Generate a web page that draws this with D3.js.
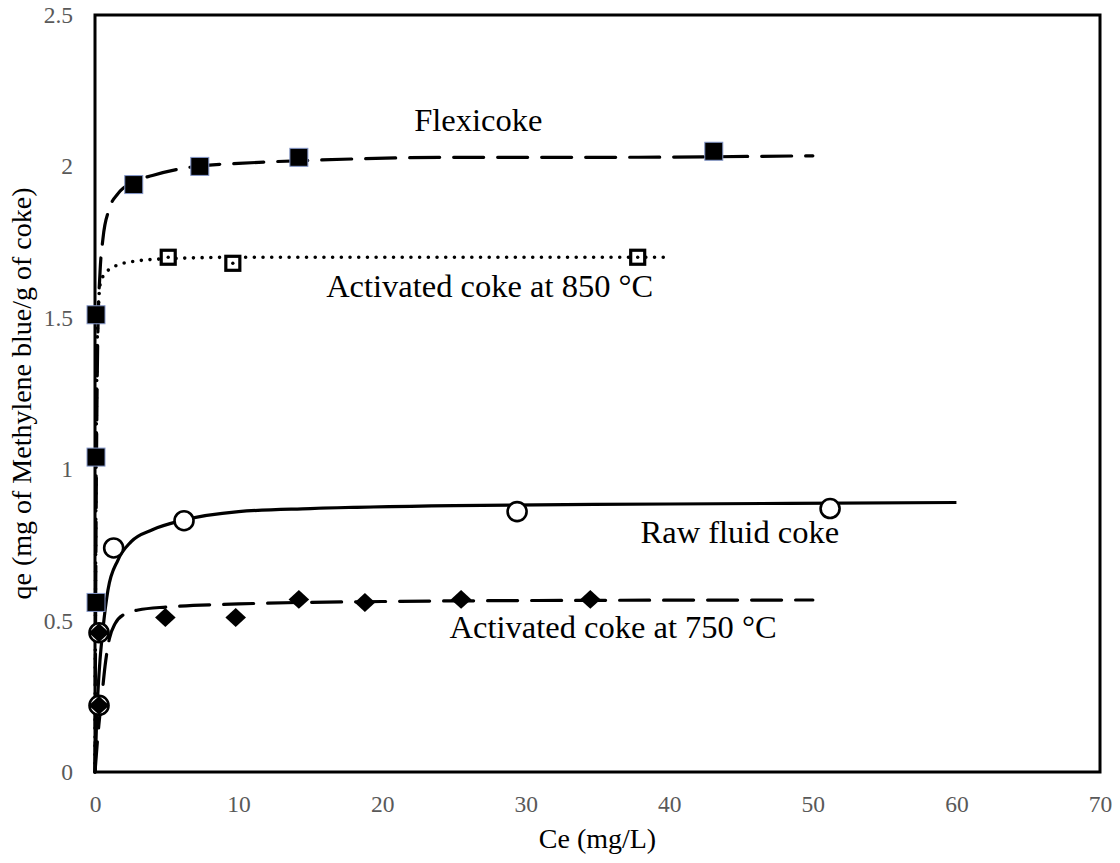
<!DOCTYPE html>
<html lang="en">
<head>
<meta charset="UTF-8">
<script src="https://d3js.org/d3.v7.min.js"></script>
<style>
body { margin: 0; background: #fff; }
text { font-family: "Liberation Serif", "Times New Roman", serif; }
</style>
</head>
<body>
<div class="canva"></div>
<script>
// measured points (Ce mg/L, qe mg/g)
const flexiX = [0.07, 0.07, 0.07, 2.7, 7.3, 14.2, 43.1];
const flexiY = [0.56, 1.04, 1.51, 1.94, 2.0, 2.03, 2.05];
const act850X = [5.1, 9.6, 37.8];
const act850Y = [1.70, 1.68, 1.70];
const rawX = [0.28, 0.28, 1.3, 6.2, 29.4, 51.2];
const rawY = [0.22, 0.46, 0.74, 0.83, 0.86, 0.87];
const act750X = [0.28, 0.28, 4.9, 9.8, 14.2, 18.8, 25.5, 34.5];
const act750Y = [0.22, 0.46, 0.51, 0.51, 0.57, 0.56, 0.57, 0.57];

// fitted curves
const flexiFitX = [0, 0.05, 0.1, 0.2, 0.35, 0.55, 1.0, 1.6, 2.7, 4, 7, 10, 15, 25, 35, 50];
const flexiFitY = [0, 0.6, 1.0, 1.45, 1.65, 1.76, 1.86, 1.91, 1.95, 1.97, 2.0, 2.01, 2.02, 2.03, 2.03, 2.035];
const act850FitX = [0, 0.05, 0.1, 0.2, 0.4, 1, 2.5, 5, 10, 20, 40];
const act850FitY = [0, 0.8, 1.2, 1.5, 1.62, 1.66, 1.685, 1.695, 1.70, 1.70, 1.70];
const rawFitX = [0, 0.1, 0.2, 0.35, 0.55, 0.9, 1.6, 2.5, 4, 6, 10, 15, 25, 40, 60];
const rawFitY = [0, 0.15, 0.26, 0.37, 0.47, 0.60, 0.70, 0.76, 0.80, 0.83, 0.86, 0.87, 0.88, 0.885, 0.89];
const act750FitX = [0, 0.2, 0.5, 0.7, 1.0, 1.4, 2.0, 3, 5, 10, 20, 35, 50];
const act750FitY = [0, 0.12, 0.26, 0.35, 0.44, 0.49, 0.52, 0.535, 0.545, 0.555, 0.563, 0.567, 0.568];

const xTicks = [0, 10, 20, 30, 40, 50, 60, 70];
const yTicks = [0, 0.5, 1, 1.5, 2, 2.5];

const width = 1120, height = 863;
const margin = {top: 15, right: 20, bottom: 91, left: 95};

const svg = d3.select(".canva").append("svg")
  .attr("width", width)
  .attr("height", height);

const x = d3.scaleLinear().domain([0, 70]).range([margin.left, width - margin.right]);
const y = d3.scaleLinear().domain([0, 2.5]).range([height - margin.bottom, margin.top]);

// tick labels (no tick marks)
const xAxis = svg.append("g")
  .attr("transform", `translate(0,${height - margin.bottom})`)
  .call(d3.axisBottom(x).tickValues(xTicks).tickSize(0).tickPadding(23).tickFormat(d3.format("d")));
const yAxis = svg.append("g")
  .attr("transform", `translate(${margin.left},0)`)
  .call(d3.axisLeft(y).tickValues(yTicks).tickSize(0).tickPadding(22).tickFormat(d => d));
[xAxis, yAxis].forEach(a => {
  a.select(".domain").remove();
  a.selectAll("text")
    .style("font-family", "Liberation Serif")
    .style("font-size", "23.5px")
    .attr("fill", "#595959");
});

// plot frame
svg.append("rect")
  .attr("x", x(0))
  .attr("y", y(2.5))
  .attr("width", x(70) - x(0))
  .attr("height", y(0) - y(2.5))
  .attr("fill", "none")
  .attr("stroke", "black")
  .attr("stroke-width", 3);

const line = d3.line().x(d => x(d[0])).y(d => y(d[1])).curve(d3.curveMonotoneX);
const zip = (a, b) => a.map((v, i) => [v, b[i]]);

const fits = [
  {xs: flexiFitX, ys: flexiFitY, dash: "30 14", cap: "round", w: 3.2},
  {xs: act850FitX, ys: act850FitY, dash: "0 8.7", cap: "round", w: 3.6},
  {xs: rawFitX, ys: rawFitY, dash: null, cap: "butt", w: 3.2},
  {xs: act750FitX, ys: act750FitY, dash: "30 14", cap: "round", w: 3.2}
];
fits.forEach(f => {
  svg.append("path")
    .attr("d", line(zip(f.xs, f.ys)))
    .attr("fill", "none")
    .attr("stroke", "black")
    .attr("stroke-width", f.w)
    .attr("stroke-linecap", f.cap)
    .attr("stroke-dasharray", f.dash);
});

// markers
svg.selectAll(".raw").data(zip(rawX, rawY)).enter()
  .append("circle")
  .attr("cx", d => x(d[0]))
  .attr("cy", d => y(d[1]))
  .attr("r", 9.5)
  .attr("fill", "white")
  .attr("stroke", "black")
  .attr("stroke-width", 2.6);

const diamond = d3.symbol().type(d3.symbolDiamond2).size(270);
svg.selectAll(".a750").data(zip(act750X, act750Y)).enter()
  .append("path")
  .attr("transform", d => `translate(${x(d[0])},${y(d[1])}) scale(1,0.92)`)
  .attr("d", diamond)
  .attr("fill", "black");

svg.selectAll(".a850").data(zip(act850X, act850Y)).enter()
  .append("rect")
  .attr("x", d => x(d[0]) - 7)
  .attr("y", d => y(d[1]) - 7)
  .attr("width", 14)
  .attr("height", 14)
  .attr("fill", "white")
  .attr("stroke", "black")
  .attr("stroke-width", 3.2);
svg.selectAll(".a850dot").data(zip(act850X, act850Y)).enter()
  .append("circle")
  .attr("cx", d => x(d[0]))
  .attr("cy", d => y(d[1]))
  .attr("r", 1.7)
  .attr("fill", "black");

svg.selectAll(".flexi").data(zip(flexiX, flexiY)).enter()
  .append("rect")
  .attr("x", d => x(d[0]) - 9)
  .attr("y", d => y(d[1]) - 9)
  .attr("width", 18)
  .attr("height", 18)
  .attr("fill", "black")
  .attr("stroke", "#8497c9")
  .attr("stroke-width", 1);

// series labels
const labels = [
  {t: "Flexicoke", x: 26.7, y: 2.118, anchor: "middle"},
  {t: "Activated coke at 850 °C", x: 16.1, y: 1.569, anchor: "start"},
  {t: "Raw fluid coke", x: 38.0, y: 0.756, anchor: "start"},
  {t: "Activated coke at 750 °C", x: 24.7, y: 0.443, anchor: "start"}
];
svg.selectAll(".lbl").data(labels).enter()
  .append("text")
  .attr("x", d => x(d.x))
  .attr("y", d => y(d.y))
  .attr("text-anchor", d => d.anchor)
  .style("font-size", "32.5px")
  .attr("fill", "black")
  .text(d => d.t);

// axis titles
svg.append("text")
  .attr("x", (x(0) + x(70)) / 2)
  .attr("y", 848)
  .attr("text-anchor", "middle")
  .style("font-size", "28px")
  .text("Ce (mg/L)");
svg.append("text")
  .attr("transform", `translate(31,${(y(0) + y(2.5)) / 2}) rotate(-90)`)
  .attr("text-anchor", "middle")
  .style("font-size", "28px")
  .text("qe (mg of Methylene blue/g of coke)");
</script>
</body>
</html>
